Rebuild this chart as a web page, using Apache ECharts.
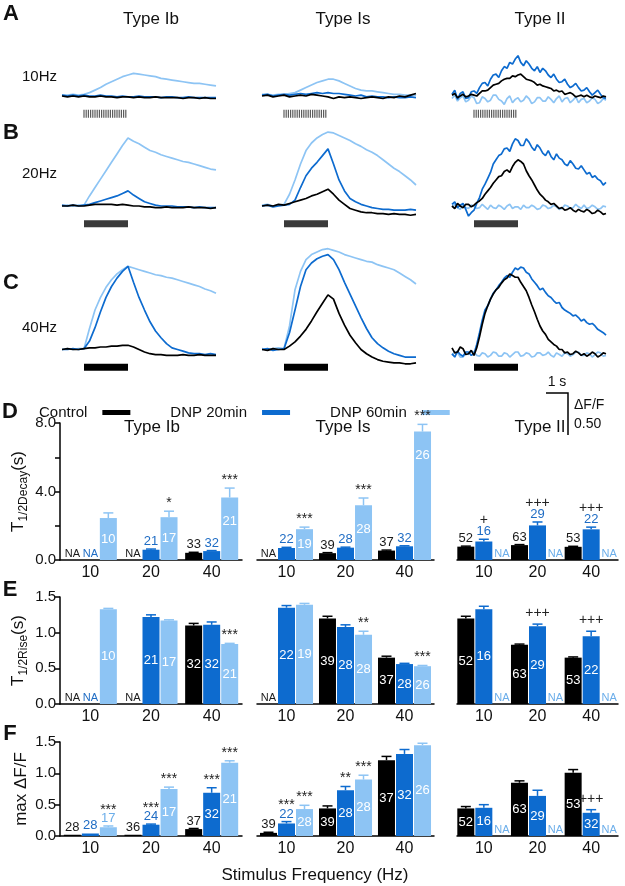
<!DOCTYPE html>
<html>
<head>
<meta charset="utf-8">
<script src="https://cdn.jsdelivr.net/npm/echarts@6/dist/echarts.min.js"></script>
<style>
html, body { margin: 0; padding: 0; background: #fff; }
#main { width: 625px; height: 886px; }
</style>
</head>
<body>
<div id="main"></div>
<script>
var FONT = 'Liberation Sans, Arial, Helvetica, sans-serif';
var groups = ['Control', 'DNP 20min', 'DNP 60min'];
var COLORS = ['#000000', '#0d6bcf', '#8dc4f4'];
var LABEL_COLORS = ['#1a1a1a', '#1e6cc4', '#6caeea'];

// ---- calcium traces (dF/F) ----
// Type Ib / Is sampled every 0.25 s, Type II (noisier) every 0.125 s
var tTrace = [0,0.25,0.5,0.75,1,1.25,1.5,1.75,2,2.25,2.5,2.75,3,3.25,3.5,3.75,4,4.25,4.5,4.75,5,5.25,5.5,5.75,6,6.25,6.5,6.75,7];
var tFine = [0,0.125,0.25,0.375,0.5,0.625,0.75,0.875,1,1.125,1.25,1.375,1.5,1.625,1.75,1.875,2,2.125,2.25,2.375,2.5,2.625,2.75,2.875,3,3.125,3.25,3.375,3.5,3.625,3.75,3.875,4,4.125,4.25,4.375,4.5,4.625,4.75,4.875,5,5.125,5.25,5.375,5.5,5.625,5.75,5.875,6,6.125,6.25,6.375,6.5,6.625,6.75,6.875,7];
var pulses10 = [1,1.1,1.2,1.3,1.4,1.5,1.6,1.7,1.8,1.9,2,2.1,2.2,2.3,2.4,2.5,2.6,2.7,2.8,2.9];
var stimOn = 1, stimOff = 3;

// each: [Control, DNP 20min, DNP 60min]
var tr10Ib = [
  [0,-0.01,0,-0.01, 0,-0.01,-0.01,0, -0.01,-0.01,-0.02,-0.01, -0.01,-0.02,-0.01,-0.02, -0.02,-0.01,-0.02,-0.02, -0.02,-0.02,-0.03,-0.02, -0.02,-0.03,-0.02,-0.03, -0.03],
  [0.01,0,0.01,0, 0.01,0,0,0.01, 0,0,-0.01,0, -0.01,-0.01,0,-0.01, -0.01,-0.01,-0.02,-0.01, -0.01,-0.02,-0.02,-0.01, -0.02,-0.02,-0.02,-0.02, -0.02],
  [0.01,0.01,0.02,0.01, 0.02,0.04,0.07,0.1, 0.14,0.17,0.2,0.23, 0.25,0.27,0.26,0.25, 0.24,0.23,0.21,0.2, 0.19,0.18,0.17,0.16, 0.15,0.15,0.14,0.13, 0.12]
];
var tr10Is = [
  [0,0.01,-0.01,0, 0.01,-0.01,0,0.01, 0,0.02,0.01,0, -0.01,-0.03,-0.01,-0.02, -0.01,-0.02,-0.03,-0.02, -0.01,-0.02,-0.03,-0.01, -0.02,0,-0.01,0.01, 0.03],
  [0.01,0.02,0,0.01, 0.02,0.01,0.02,0.03, 0.02,0.03,0.04,0.03, 0.04,0.03,0.03,0.02, 0.01,0,0.01,-0.01, 0,-0.01,-0.01,-0.02, -0.01,-0.02,-0.02,-0.01, -0.02],
  [0.02,0.02,0.01,0.02, 0.02,0.03,0.04,0.07, 0.1,0.13,0.16,0.18, 0.2,0.2,0.18,0.15, 0.12,0.09,0.07,0.06, 0.06,0.05,0.04,0.03, 0.02,0.02,0.01,0.01, 0.01]
];
var tr10II = [
  [0.01,0.03,-0.02,0,0.02,-0.01,0,0.02, 0.01,0,0.03,0.06,0.06,0.07,0.1,0.13, 0.14,0.15,0.18,0.2,0.21,0.21,0.24,0.23, 0.25,0.26,0.23,0.2,0.19,0.18,0.16,0.13,
   0.14,0.12,0.11,0.1,0.09,0.06,0.07,0.05, 0.06,0.02,0.03,0.04,0.02,-0.01,0,0.01, -0.01,0.01,-0.01,-0.02,0,-0.01,-0.02,0, -0.01],
  [0.02,0.07,-0.04,0.03,0.05,-0.03,-0.02,0.05, 0.06,0.03,0.1,0.15,0.16,0.12,0.2,0.25, 0.26,0.22,0.3,0.35,0.33,0.4,0.38,0.44, 0.48,0.4,0.36,0.42,0.38,0.33,0.3,0.35,
   0.28,0.33,0.3,0.25,0.22,0.26,0.2,0.16, 0.17,0.2,0.14,0.1,0.12,0.15,0.1,0.06, 0.07,0.1,0.05,0.01,0.04,0.07,0.02,-0.02, -0.03],
  [-0.03,0.01,-0.06,-0.02,0,-0.07,-0.05,0, -0.02,-0.09,-0.08,-0.01,-0.03,-0.07,-0.05,0.01, 0.01,-0.04,-0.06,-0.1,-0.03,0,-0.08,-0.04, -0.02,-0.07,-0.05,0,-0.03,-0.09,-0.07,-0.02,
   -0.02,-0.06,-0.06,-0.01,-0.04,-0.08,-0.03,0, -0.07,-0.03,-0.02,-0.08,-0.05,-0.01,-0.08,-0.04, -0.03,-0.08,-0.06,-0.02,-0.04,-0.09,-0.07,-0.03, -0.05]
];
var tr20Ib = [
  [0,0,0.01,0, 0,0.01,0.02,0.02, 0.02,0.02,0.01,0.02, 0.01,0,0,-0.01, -0.01,-0.02,-0.02,-0.01, -0.02,-0.02,-0.02,-0.01, -0.02,-0.02,-0.02,-0.03, -0.02],
  [0.01,0,0.01,0, 0.01,0.02,0.04,0.06, 0.08,0.1,0.12,0.15, 0.18,0.13,0.09,0.05, 0.03,0.01,0,0, 0,-0.01,-0.01,-0.01, -0.02,-0.01,-0.02,-0.02, -0.02],
  [0,0.01,0,0.01, 0.01,0.12,0.22,0.32, 0.42,0.52,0.62,0.72, 0.81,0.77,0.74,0.7, 0.66,0.64,0.61,0.59, 0.57,0.55,0.53,0.52, 0.5,0.48,0.46,0.44, 0.43]
];
var tr20Is = [
  [0,0.01,0,0.02, 0.01,0.03,0.05,0.07, 0.09,0.12,0.14,0.17, 0.2,0.14,0.07,0.02, -0.03,-0.05,-0.07,-0.08, -0.08,-0.09,-0.09,-0.1, -0.09,-0.1,-0.1,-0.11, -0.1],
  [0,0.01,-0.01,0, 0.01,0.02,0.07,0.22, 0.36,0.45,0.52,0.6, 0.68,0.5,0.31,0.18, 0.09,0.05,0.02,0, -0.02,-0.03,-0.04,-0.04, -0.05,-0.05,-0.05,-0.04, -0.05],
  [0.01,0.02,0,0.01, 0.02,0.14,0.31,0.5, 0.66,0.75,0.81,0.85, 0.88,0.87,0.84,0.81, 0.78,0.74,0.71,0.67, 0.64,0.6,0.55,0.5, 0.45,0.41,0.36,0.31, 0.25]
];
var tr20II = [
  [0,-0.03,0.03,0,-0.02,0.02,0.02,-0.01, 0.01,0.04,0.06,0.09,0.14,0.18,0.22,0.27, 0.31,0.35,0.36,0.41,0.43,0.4,0.47,0.52, 0.55,0.53,0.5,0.42,0.36,0.31,0.25,0.19,
   0.14,0.11,0.07,0.05,0.02,0.03,0,-0.03, -0.02,-0.05,-0.04,-0.02,-0.05,-0.07,-0.04,-0.06, -0.07,-0.04,-0.06,-0.09,-0.08,-0.05,-0.07,-0.1, -0.09],
  [0.02,0.05,-0.02,0.01,0.03,-0.04,-0.12,-0.08, -0.05,0.03,0.1,0.2,0.26,0.33,0.4,0.5, 0.55,0.6,0.62,0.68,0.69,0.65,0.74,0.8, 0.78,0.72,0.72,0.8,0.76,0.7,0.66,0.73,
   0.69,0.63,0.6,0.66,0.59,0.55,0.62,0.57, 0.55,0.5,0.48,0.54,0.5,0.45,0.44,0.48, 0.43,0.38,0.4,0.34,0.36,0.32,0.3,0.25, 0.28],
  [-0.01,0.02,-0.02,-0.04,0.01,-0.02,-0.03,0.01, 0,-0.03,-0.02,0.02,-0.01,-0.04,0.01,-0.02, -0.03,0.01,-0.01,-0.04,0,0.02,-0.03,-0.01, -0.01,-0.04,0.01,-0.02,-0.02,0.01,-0.01,-0.04,
   -0.03,0.01,0,-0.03,-0.02,0.01,-0.01,-0.04, -0.03,0.01,0,-0.03,-0.02,0.02,-0.01,-0.03, 0.01,-0.03,-0.02,0.01,-0.01,-0.04,-0.03,0, -0.01]
];
var tr40Ib = [
  [0,0.01,0,0, 0.01,0.02,0.02,0.03, 0.03,0.04,0.04,0.05, 0.05,0.03,0,-0.03, -0.05,-0.06,-0.06,-0.07, -0.07,-0.07,-0.06,-0.07, -0.07,-0.06,-0.07,-0.07, -0.07],
  [0,0,0.01,0, 0.01,0.1,0.26,0.45, 0.62,0.75,0.85,0.93, 0.99,0.8,0.62,0.47, 0.33,0.22,0.14,0.07, 0.02,0,-0.02,-0.04, -0.05,-0.05,-0.06,-0.05, -0.06],
  [0,0.01,0,0.01, 0.01,0.25,0.47,0.62, 0.74,0.83,0.9,0.95, 0.99,0.97,0.95,0.93, 0.91,0.89,0.88,0.86, 0.85,0.83,0.81,0.79, 0.77,0.75,0.72,0.7, 0.67]
];
var tr40Is = [
  [0,-0.01,0.01,0, 0,0.04,0.09,0.16, 0.24,0.34,0.45,0.55, 0.65,0.6,0.43,0.29, 0.17,0.08,0,-0.05, -0.09,-0.12,-0.14,-0.15, -0.16,-0.16,-0.17,-0.17, -0.16],
  [0,0.01,-0.01,0, 0.01,0.2,0.47,0.75, 0.95,1.03,1.08,1.11, 1.13,1.07,0.95,0.8, 0.66,0.52,0.38,0.25, 0.14,0.07,0.02,-0.02, -0.05,-0.07,-0.09,-0.09, -0.09],
  [0.01,0,0.01,0.02, 0.01,0.28,0.71,0.93, 1.07,1.13,1.16,1.19, 1.2,1.18,1.16,1.13, 1.11,1.09,1.07,1.05, 1.04,1.01,0.99,0.97, 0.95,0.91,0.87,0.83, 0.78]
];
var tr40II = [
  [0.02,-0.04,-0.03,0.03,0.01,-0.06,-0.05,-0.01, -0.07,0.02,0.15,0.3,0.43,0.52,0.6,0.66, 0.71,0.74,0.79,0.83,0.85,0.9,0.88,0.86, 0.86,0.8,0.75,0.7,0.62,0.53,0.45,0.36,
   0.28,0.22,0.18,0.12,0.09,0.06,0.04,0, 0,-0.04,-0.03,-0.06,-0.05,-0.02,-0.04,-0.07, -0.05,-0.08,-0.06,-0.03,-0.05,-0.09,-0.07,-0.04, -0.05],
  [-0.05,-0.09,-0.02,-0.06,-0.08,-0.03,-0.03,-0.07, -0.05,0.06,0.2,0.35,0.47,0.52,0.6,0.67, 0.71,0.76,0.8,0.85,0.88,0.86,0.92,0.97, 0.95,0.98,0.97,0.92,0.9,0.84,0.8,0.76,
   0.71,0.73,0.68,0.64,0.62,0.58,0.55,0.56, 0.5,0.47,0.45,0.43,0.4,0.41,0.38,0.34, 0.36,0.32,0.3,0.31,0.28,0.24,0.22,0.2, 0.17],
  [-0.07,-0.03,-0.04,-0.09,-0.09,-0.05,-0.06,-0.02, -0.03,-0.07,-0.08,-0.04,-0.05,-0.09,-0.07,-0.03, -0.04,-0.08,-0.08,-0.04,-0.05,-0.09,-0.06,-0.03, -0.03,-0.08,-0.07,-0.04,-0.05,-0.09,-0.08,-0.04,
   -0.04,-0.07,-0.06,-0.03,-0.07,-0.09,-0.04,-0.06, -0.08,-0.04,-0.05,-0.08,-0.06,-0.03,-0.03,-0.07, -0.07,-0.04,-0.05,-0.09,-0.06,-0.03,-0.04,-0.08, -0.07]
];

// ---- bar panels: rows = Control, DNP 20min, DNP 60min; cols = 10, 20, 40 Hz ----
var freqs = ['10', '20', '40'];

var decayIbMean = [[null, null, 0.42], [null, 0.6, 0.52], [2.45, 2.5, 3.65]];
var decayIbSem  = [[0, 0, 0.03], [0, 0.04, 0.03], [0.3, 0.35, 0.55]];
var decayIbN    = [['NA', 'NA', '33'], ['NA', '21', '32'], ['10', '17', '21']];
var decayIbSig  = [['', '', ''], ['', '', ''], ['', '*', '***']];
var decayIsMean = [[null, 0.4, 0.55], [0.7, 0.72, 0.8], [1.8, 3.2, 7.5]];
var decayIsSem  = [[0, 0.03, 0.03], [0.04, 0.03, 0.03], [0.12, 0.42, 0.42]];
var decayIsN    = [['NA', '39', '37'], ['22', '28', '32'], ['19', '28', '26']];
var decayIsSig  = [['', '', ''], ['', '', ''], ['***', '***', '***']];
var decayIIMean = [[0.78, 0.87, 0.77], [1.08, 2.02, 1.79], [null, null, null]];
var decayIISem  = [[0.03, 0.03, 0.03], [0.13, 0.2, 0.13], [0, 0, 0]];
var decayIIN    = [['52', '63', '53'], ['16', '29', '22'], ['NA', 'NA', 'NA']];
var decayIISig  = [['', '', ''], ['+', '+++', '+++'], ['', '', '']];

var riseIbMean = [[null, null, 1.1], [null, 1.22, 1.11], [1.33, 1.17, 0.84]];
var riseIbSem  = [[0, 0, 0.03], [0, 0.03, 0.04], [0.01, 0.01, 0.01]];
var riseIbN    = [['NA', 'NA', '32'], ['NA', '21', '32'], ['10', '17', '21']];
var riseIbSig  = [['', '', ''], ['', '', ''], ['', '', '***']];
var riseIsMean = [[null, 1.2, 0.65], [1.35, 1.08, 0.56], [1.39, 0.97, 0.53]];
var riseIsSem  = [[0, 0.03, 0.02], [0.03, 0.03, 0.01], [0.02, 0.05, 0.01]];
var riseIsN    = [['NA', '39', '37'], ['22', '28', '28'], ['19', '28', '26']];
var riseIsSig  = [['', '', ''], ['', '', ''], ['', '**', '***']];
var riseIIMean = [[1.2, 0.83, 0.65], [1.33, 1.09, 0.95], [null, null, null]];
var riseIISem  = [[0.03, 0.01, 0.01], [0.04, 0.03, 0.07], [0, 0, 0]];
var riseIIN    = [['52', '63', '53'], ['16', '29', '22'], ['NA', 'NA', 'NA']];
var riseIISig  = [['', '', ''], ['', '+++', '+++'], ['', '', '']];

var maxIbMean = [[0.02, 0.02, 0.11], [0.04, 0.18, 0.69], [0.14, 0.75, 1.17]];
var maxIbSem  = [[0.005, 0.005, 0.01], [0.005, 0.01, 0.08], [0.02, 0.03, 0.03]];
var maxIbN    = [['28', '36', '37'], ['28', '24', '32'], ['17', '17', '21']];
var maxIbSig  = [['', '', ''], ['', '***', '***'], ['***', '***', '***']];
var maxIsMean = [[0.05, 0.44, 1.21], [0.2, 0.73, 1.31], [0.43, 0.9, 1.45]];
var maxIsSem  = [[0.01, 0.04, 0.06], [0.03, 0.06, 0.07], [0.06, 0.07, 0.03]];
var maxIsN    = [['39', '39', '37'], ['22', '28', '32'], ['28', '28', '26']];
var maxIsSig  = [['', '', ''], ['***', '**', ''], ['***', '***', '']];
var maxIIMean = [[0.44, 0.85, 1.01], [0.45, 0.64, 0.37], [null, null, null]];
var maxIISem  = [[0.03, 0.03, 0.05], [0.05, 0.09, 0.05], [0, 0, 0]];
var maxIIN    = [['52', '63', '53'], ['16', '29', '32'], ['NA', 'NA', 'NA']];
var maxIISig  = [['', '', ''], ['', '', '+++'], ['', '', '']];

// ---- layout ----
var PX_S = 22, PX_U = 84, Y_MIN = -0.3, STIM_Y = -0.21;
var traceRows = [
  { base: 96, max: 0.9, stim: 'ticks' },
  { base: 206, max: 1.1, stim: 'hatch' },
  { base: 349.5, max: 1.3, stim: 'solid' }
];
var traceCols = [62, 262, 452];
var traceTimes = [tTrace, tTrace, tFine];
var traceSets = [[tr10Ib, tr10Is, tr10II], [tr20Ib, tr20Is, tr20II], [tr40Ib, tr40Is, tr40II]];

var barCols = [{ left: 60, width: 182 }, { left: 257, width: 177 }, { left: 457, width: 161 }];
var barRows = [
  { top: 423, height: 137, max: 8, interval: 2, name: '{t|T}{s|1/2Decay}{t|(s)}', insideMin: [20, 20, 999], insideAt: 'top',
    sets: [[decayIbMean, decayIbSem, decayIbN, decayIbSig], [decayIsMean, decayIsSem, decayIsN, decayIsSig], [decayIIMean, decayIISem, decayIIN, decayIISig]] },
  { top: 597, height: 107, max: 1.5, interval: 0.5, name: '{t|T}{s|1/2Rise}{t|(s)}', insideMin: [20, 20, 20], insideAt: 'center',
    sets: [[riseIbMean, riseIbSem, riseIbN, riseIbSig], [riseIsMean, riseIsSem, riseIsN, riseIsSig], [riseIIMean, riseIISem, riseIIN, riseIISig]] },
  { top: 742, height: 94, max: 1.5, interval: 0.5, name: 'max ΔF/F', insideMin: [20, 20, 20], insideAt: 'center',
    sets: [[maxIbMean, maxIbSem, maxIbN, maxIbSig], [maxIsMean, maxIsSem, maxIsN, maxIsSig], [maxIIMean, maxIISem, maxIIN, maxIISig]] }
];
var BAR_W = 17, BAR_STEP = 18;

var grids = [], xAxes = [], yAxes = [], series = [];

// traces
traceRows.forEach(function (row, r) {
  traceCols.forEach(function (left, c) {
    var gi = grids.length;
    grids.push({ left: left, width: 7 * PX_S, top: row.base - row.max * PX_U, height: (row.max - Y_MIN) * PX_U, outerBoundsMode: 'none' });
    xAxes.push({ gridIndex: gi, type: 'value', min: 0, max: 7, show: false });
    yAxes.push({ gridIndex: gi, type: 'value', min: Y_MIN, max: row.max, show: false });
    var set = traceSets[r][c], times = traceTimes[c];
    [2, 1, 0].forEach(function (k, j) {
      series.push({
        name: groups[k], type: 'line', xAxisIndex: gi, yAxisIndex: gi,
        showSymbol: false, z: 3 + j,
        data: times.map(function (t, i) { return [t, set[k][i]]; }),
        lineStyle: { color: COLORS[k], width: 1.7 },
        itemStyle: { color: COLORS[k] }
      });
    });
    if (row.stim === 'ticks') {
      series.push({
        type: 'scatter', xAxisIndex: gi, yAxisIndex: gi, symbol: 'rect', symbolSize: [1.2, 8],
        itemStyle: { color: '#333' },
        data: pulses10.map(function (t) { return [t, STIM_Y]; })
      });
    } else {
      series.push({
        type: 'line', xAxisIndex: gi, yAxisIndex: gi, showSymbol: false,
        lineStyle: { color: row.stim === 'hatch' ? '#3a3a3a' : '#000', width: 7, cap: 'butt' },
        data: [[stimOn, STIM_Y], [stimOff, STIM_Y]]
      });
    }
  });
});

function txt(x, y, s, color, size, va) {
  return { type: 'text', x: x, y: y, style: { text: s, fill: color, fontSize: size, fontFamily: FONT, align: 'center', verticalAlign: va } };
}

// error bars, n labels and significance marks drawn on top of the bars
function overlay(gi, set, insideMin, insideAt) {
  var mean = set[0], sem = set[1], ns = set[2], sig = set[3];
  var items = [];
  for (var s = 0; s < 3; s++) for (var c = 0; c < 3; c++) items.push([c, s, mean[s][c] == null ? 0 : mean[s][c]]);
  return {
    type: 'custom', xAxisIndex: gi, yAxisIndex: gi, data: items, z: 10, silent: true, clip: false,
    encode: { x: 0, y: 2 },
    renderItem: function (params, api) {
      var c = api.value(0), s = api.value(1);
      var v = mean[s][c], e = sem[s][c];
      var zero = api.coord([c, 0]);
      var x = zero[0] + (s - 1) * BAR_STEP, y0 = zero[1];
      var top = y0, errTop = y0, kids = [];
      if (v != null) {
        top = api.coord([c, v])[1];
        errTop = api.coord([c, v + e])[1];
        if (errTop < top - 0.5) {
          kids.push({ type: 'line', shape: { x1: x, y1: top, x2: x, y2: errTop }, style: { stroke: COLORS[s], lineWidth: 1.5 } });
          kids.push({ type: 'line', shape: { x1: x - 5, y1: errTop, x2: x + 5, y2: errTop }, style: { stroke: COLORS[s], lineWidth: 1.5 } });
        }
      }
      var label = ns[s][c];
      var inside = v != null && (y0 - top) >= insideMin;
      var markC = errTop - 11;
      if (inside) {
        var ly = insideAt === 'top' ? Math.min((top + y0) / 2, top + 24) : (top + y0) / 2;
        kids.push(txt(x, ly, label, '#ffffff', 13, 'middle'));
      } else {
        kids.push(txt(x, errTop - 1, label, LABEL_COLORS[s], label === 'NA' ? 11 : 13, 'bottom'));
        markC = errTop - 19;
      }
      var m = sig[s][c];
      if (m) kids.push(txt(x, markC + (m.charAt(0) === '*' ? 3 : 0), m, '#222', 14, 'middle'));
      return { type: 'group', children: kids };
    }
  };
}

// bar panels
barRows.forEach(function (row, r) {
  barCols.forEach(function (col, c) {
    var gi = grids.length;
    grids.push({ left: col.left, width: col.width, top: row.top, height: row.height, outerBoundsMode: 'none' });
    xAxes.push({
      gridIndex: gi, type: 'category', data: freqs,
      axisLine: { lineStyle: { color: '#000', width: 1.5 } },
      axisTick: { show: false },
      axisLabel: { fontSize: 16, color: '#111', margin: 5, fontFamily: FONT }
    });
    var ya = {
      gridIndex: gi, type: 'value', min: 0, max: row.max, interval: row.interval,
      splitLine: { show: false }
    };
    if (c === 0) {
      ya.axisLine = { show: true, lineStyle: { color: '#000', width: 1.5 } };
      ya.axisTick = { show: true, length: 5, lineStyle: { color: '#000', width: 1.5 } };
      ya.axisLabel = {
        fontSize: 15, color: '#111', margin: 4, fontFamily: FONT,
        formatter: function (v) { return (r === 0 && v % 4 !== 0) ? '' : v.toFixed(1); }
      };
      ya.name = row.name;
      ya.nameLocation = 'middle';
      ya.nameGap = 30;
      ya.nameTextStyle = {
        fontSize: 17, color: '#111', fontFamily: FONT,
        rich: {
          t: { fontSize: 17, lineHeight: 24, fontFamily: FONT, color: '#111' },
          s: { fontSize: 12, lineHeight: 12, verticalAlign: 'bottom', fontFamily: FONT, color: '#111' }
        }
      };
    } else {
      ya.show = false;
    }
    yAxes.push(ya);
    var set = row.sets[c];
    for (var s = 0; s < 3; s++) {
      series.push({
        name: groups[s], type: 'bar', xAxisIndex: gi, yAxisIndex: gi,
        barWidth: BAR_W, barGap: '6%',
        itemStyle: { color: COLORS[s] },
        data: set[0][s]
      });
    }
    series.push(overlay(gi, set, row.insideMin[c], row.insideAt));
  });
});

function gtext(x, y, s, size, opts) {
  opts = opts || {};
  return {
    type: 'text', x: x, y: y,
    style: { text: s, fontSize: size, fontFamily: FONT, fill: '#111', fontWeight: opts.bold ? 'bold' : 'normal',
      align: opts.align || 'center', verticalAlign: 'middle' }
  };
}

var graphics = [
  gtext(11, 14, 'A', 22, { bold: true }), gtext(11, 133, 'B', 22, { bold: true }), gtext(11, 283, 'C', 22, { bold: true }),
  gtext(10, 412, 'D', 22, { bold: true }), gtext(10, 590, 'E', 22, { bold: true }), gtext(10, 734, 'F', 22, { bold: true }),
  gtext(151, 19, 'Type Ib', 17), gtext(343, 19, 'Type Is', 17), gtext(540, 19, 'Type II', 17),
  gtext(152, 427, 'Type Ib', 17), gtext(343, 427, 'Type Is', 17), gtext(540, 427, 'Type II', 17),
  gtext(22, 77, '10Hz', 15, { align: 'left' }), gtext(22, 174, '20Hz', 15, { align: 'left' }), gtext(22, 328, '40Hz', 15, { align: 'left' }),
  gtext(315, 875, 'Stimulus Frequency (Hz)', 17),
  { type: 'polyline', shape: { points: [[546, 393], [568, 393], [568, 435]] }, style: { stroke: '#000', lineWidth: 1.5, fill: null } },
  gtext(557, 382, '1 s', 14),
  gtext(574, 405, 'ΔF/F', 14, { align: 'left' }),
  gtext(574, 424, '0.50', 14, { align: 'left' })
];

var option = {
  animation: false,
  backgroundColor: '#ffffff',
  textStyle: { fontFamily: FONT },
  legend: {
    data: groups, left: 34, top: 400, itemGap: 40, itemWidth: 28, itemHeight: 5,
    icon: 'rect', align: 'right', selectedMode: false,
    textStyle: { fontSize: 15, color: '#111', fontFamily: FONT, padding: [0, 10, 0, 0] }
  },
  grid: grids,
  xAxis: xAxes,
  yAxis: yAxes,
  series: series,
  graphic: graphics
};

var chart = echarts.init(document.getElementById('main'));
chart.setOption(option);
</script>
</body>
</html>
